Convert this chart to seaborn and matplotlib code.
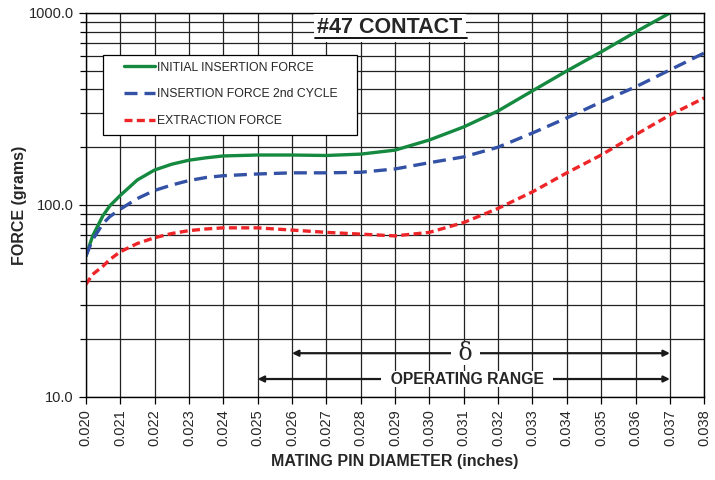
import matplotlib
matplotlib.use('Agg')
import matplotlib.pyplot as plt
import numpy as np
import pandas as pd
import seaborn as sns
from matplotlib.patches import Rectangle
from matplotlib.ticker import FixedLocator, LogLocator, NullFormatter

# pin diameter (inches)
dia = [0.020, 0.0202, 0.0205, 0.0207, 0.021, 0.0215, 0.022, 0.0225, 0.023,
       0.0235, 0.024, 0.025, 0.026, 0.027, 0.028, 0.029, 0.030, 0.031, 0.032,
       0.033, 0.034, 0.035, 0.036, 0.037, 0.038]

initial = [54, 69, 88, 99, 112, 135, 152, 163, 171,
           176, 180, 182, 182, 181, 184, 193, 218, 255, 309,
           393, 499, 627, 796, 1000, 1250]
second = [54, 66, 80, 87, 95, 108, 119, 127, 134,
          139, 142, 145, 147, 147, 148, 154, 166, 178, 200,
          237, 284, 344, 412, 505, 619]
extraction = [38.5, 43.5, 48, 52, 57, 63, 67.5, 71, 73.5,
              75, 76, 76, 74, 72, 70.5, 69, 72, 81, 96,
              117, 147, 182, 232, 294, 361]

df = pd.DataFrame({'dia': dia, 'initial': initial, 'second': second,
                   'extraction': extraction})

sns.set_style('white')
plt.rcParams['font.family'] = ['Liberation Sans', 'DejaVu Sans']

fig = plt.figure(figsize=(7.15, 4.8), dpi=100)
ax = fig.add_axes([0.120, 0.173, 0.865, 0.80])

sns.lineplot(x='dia', y='initial', data=df, ax=ax, color='#14893f', lw=2.4,
             label='INITIAL INSERTION FORCE')
sns.lineplot(x='dia', y='second', data=df, ax=ax, color='#3352a6', lw=2.4,
             label='INSERTION FORCE 2nd CYCLE')
ax.lines[-1].set_dashes([3.9, 2.1])
sns.lineplot(x='dia', y='extraction', data=df, ax=ax, color='#ee2528', lw=2.4,
             label='EXTRACTION FORCE')
ax.lines[-1].set_dashes([2.4, 1.3])

ax.set_yscale('log')
ax.set_xlim(0.020, 0.038)
ax.set_ylim(10, 1000)

xt = np.round(np.arange(0.020, 0.0381, 0.001), 3)
ax.xaxis.set_major_locator(FixedLocator(xt))
ax.set_xticklabels([f'{v:.3f}' for v in xt], rotation=90, fontsize=10.5)
ax.yaxis.set_major_locator(FixedLocator([10, 100, 1000]))
ax.set_yticklabels(['10.0', '100.0', '1000.0'], fontsize=10.5)
ax.yaxis.set_minor_locator(LogLocator(base=10, subs=np.arange(2, 10)))
ax.yaxis.set_minor_formatter(NullFormatter())

ax.tick_params(axis='both', which='both', direction='out', color='black',
               width=0.9, left=True, bottom=True)
ax.tick_params(axis='both', which='major', length=5)
ax.tick_params(axis='y', which='minor', length=4)

ax.grid(True, which='major', color='#222222', lw=0.9)
ax.grid(True, which='minor', axis='y', color='#222222', lw=0.9)
for s in ax.spines.values():
    s.set_color('black')
    s.set_linewidth(1.0)

ax.set_xlabel('MATING PIN DIAMETER (inches)', fontsize=11.5, fontweight='bold',
              labelpad=6)
ax.set_ylabel('FORCE (grams)', fontsize=11.5, fontweight='bold', labelpad=1)

# legend box drawn separately so its padding matches the original
ax.add_patch(Rectangle((0.0275, 0.682), 0.411, 0.208, transform=ax.transAxes,
                       facecolor='white', edgecolor='black', lw=0.9,
                       zorder=4))
leg = ax.legend(loc='upper left', bbox_to_anchor=(0.061, 0.873), fontsize=8.8,
                frameon=False, handlelength=2.55, handletextpad=0.15,
                labelspacing=1.2, borderpad=0, borderaxespad=0)
leg.set_zorder(5)

ax.text(0.492, 0.961, '#47 CONTACT', transform=ax.transAxes, ha='center',
        va='center', fontsize=15.5, fontweight='bold', zorder=5,
        bbox=dict(facecolor='white', edgecolor='none', pad=2.5))
ax.plot([0.3705, 0.6165], [0.934, 0.934], transform=ax.transAxes,
        color='black', lw=1.3, zorder=6)

# range arrows
ax.annotate('', xy=(0.026, 16.9), xytext=(0.037, 16.9),
            arrowprops=dict(arrowstyle='<|-|>', color='#1a1a1a', lw=1.6,
                            mutation_scale=9, shrinkA=0, shrinkB=0))
ax.text(0.03105, 16.9, ' δ ', ha='center', va='center', fontsize=17,
        family='DejaVu Serif',
        bbox=dict(facecolor='white', edgecolor='none', pad=0))
ax.annotate('', xy=(0.025, 12.4), xytext=(0.037, 12.4),
            arrowprops=dict(arrowstyle='<|-|>', color='#1a1a1a', lw=1.6,
                            mutation_scale=9, shrinkA=0, shrinkB=0))
ax.text(0.0311, 12.4, '  OPERATING RANGE  ', ha='center', va='center',
        fontsize=11.3, fontweight='bold',
        bbox=dict(facecolor='white', edgecolor='none', pad=0.5))

fig.savefig('out.png', dpi=100)
